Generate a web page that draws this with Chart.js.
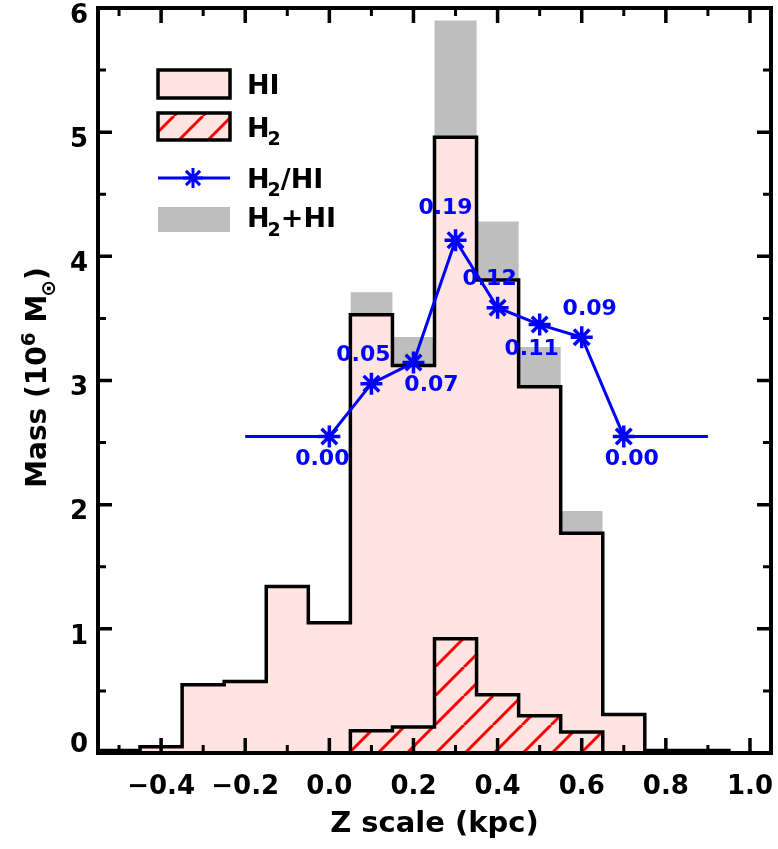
<!DOCTYPE html>
<html>
<head>
<meta charset="utf-8">
<title>HI and H2 mass versus Z scale</title>
<script src="https://cdn.jsdelivr.net/npm/chart.js@4.4.1/dist/chart.umd.min.js"></script>
<style>
  html, body { margin: 0; padding: 0; background: #ffffff; }
  #wrap { width: 778px; height: 849px; }
</style>
</head>
<body>
<div id="wrap"><canvas id="massChart" width="778" height="849"></canvas></div>
<script>
// Mass per 0.1 kpc bin of Z (10^6 solar masses)
const binWidth   = 0.1;
const hiCenters  = [-0.5, -0.4, -0.3, -0.2, -0.1, 0.0, 0.1, 0.2, 0.3, 0.4, 0.5, 0.6, 0.7, 0.8, 0.9];
const massHI     = [0.02, 0.05, 0.55, 0.575, 1.34, 1.05, 3.53, 3.12, 4.96, 3.81, 2.95, 1.77, 0.31, 0.02, 0.02];
const h2Centers  = [0.1, 0.2, 0.3, 0.4, 0.5, 0.6];
const massH2     = [0.18, 0.21, 0.92, 0.47, 0.30, 0.17];
const massTotal  = [3.71, 3.35, 5.90, 4.28, 3.27, 1.95];

// H2/HI mass ratio per bin, and the Z range over which the zero level is drawn
const ratioZ      = [0.0, 0.1, 0.2, 0.3, 0.4, 0.5, 0.6, 0.7];
const ratioH2HI   = [0.00, 0.050, 0.070, 0.186, 0.122, 0.106, 0.094, 0.00];
const ratioExtent = [-0.2, 0.9];

// Axis ticks
const xTickValues = [-0.4, -0.2, 0.0, 0.2, 0.4, 0.6, 0.8, 1.0];
const yTickValues = [0, 1, 2, 3, 4, 5, 6];
const xMinorStep = 0.1;
const yMinorStep = 0.5;

// Label placement relative to each ratio marker (px)
const ratioLabelShift = [[-7, 23], [-8, -28], [18, 23], [-10, -32], [-8, -28], [-8, 25], [8, -28], [8, 23]];

const FONT = "'DejaVu Sans', 'Liberation Sans', sans-serif";
const PINK = '#ffe4e1';
const GREY = '#bebebe';
const BLUE = '#0000ff';
const RED  = '#ff0000';

Chart.defaults.font.family = FONT;
Chart.defaults.font.weight = 'bold';
Chart.defaults.color = '#000';

// Diagonal red hatching for the H2 histogram
function makeHatch() {
  const s = 29;
  const c = document.createElement('canvas');
  c.width = s; c.height = s;
  const g = c.getContext('2d');
  g.strokeStyle = RED;
  g.lineWidth = 3;
  g.beginPath();
  for (let k = -1; k <= 1; k++) {
    g.moveTo(k * s, s);
    g.lineTo(k * s + s, 0);
  }
  g.stroke();
  return g.createPattern(c, 'repeat');
}
const hatch = makeHatch();

// Closed step outline through bin edges (drawn with stepped lines)
function stepOutline(centers, values) {
  const half = binWidth / 2;
  const pts = [{ x: centers[0] - half, y: 0 }];
  centers.forEach((c, i) => pts.push({ x: c - half, y: values[i] }));
  pts.push({ x: centers[centers.length - 1] + half, y: 0 });
  return pts;
}

const ratioPoints = [{ x: ratioExtent[0], y: 0 }]
  .concat(ratioZ.map((z, i) => ({ x: z, y: ratioH2HI[i] })))
  .concat([{ x: ratioExtent[1], y: 0 }]);

function fmtX(v) {
  if (Math.abs(v) < 1e-9) return '0.0';
  return (v < 0 ? '\u2212' : '') + Math.abs(v).toFixed(1);
}

// Inward tick marks on all four sides plus the box frame
const axisFrame = {
  id: 'axisFrame',
  afterDatasetsDraw(chart) {
    const { ctx, chartArea: a, scales: { x, y } } = chart;
    ctx.save();
    ctx.strokeStyle = '#000';
    ctx.lineCap = 'butt';
    for (let i = Math.ceil(x.min / xMinorStep - 1e-9); i * xMinorStep <= x.max + 1e-9; i++) {
      const v = i * xMinorStep;
      const major = xTickValues.some(t => Math.abs(t - v) < 1e-6);
      const px = x.getPixelForValue(v);
      const len = major ? 15 : 8;
      ctx.lineWidth = major ? 3.5 : 3;
      ctx.beginPath();
      ctx.moveTo(px, a.bottom); ctx.lineTo(px, a.bottom - len);
      ctx.moveTo(px, a.top); ctx.lineTo(px, a.top + len);
      ctx.stroke();
    }
    for (let i = Math.ceil(y.min / yMinorStep - 1e-9); i * yMinorStep <= y.max + 1e-9; i++) {
      const v = i * yMinorStep;
      const major = yTickValues.some(t => Math.abs(t - v) < 1e-6);
      const py = y.getPixelForValue(v);
      const len = major ? 14 : 8;
      ctx.lineWidth = major ? 3.5 : 3;
      ctx.beginPath();
      ctx.moveTo(a.left, py); ctx.lineTo(a.left + len, py);
      ctx.moveTo(a.right, py); ctx.lineTo(a.right - len, py);
      ctx.stroke();
    }
    ctx.lineWidth = 4;
    ctx.strokeRect(a.left, a.top, a.right - a.left, a.bottom - a.top);
    ctx.restore();
  }
};

// Ratio values printed next to the asterisks
const ratioLabels = {
  id: 'ratioLabels',
  afterDatasetsDraw(chart) {
    const meta = chart.getDatasetMeta(3);
    const ctx = chart.ctx;
    ctx.save();
    ctx.fillStyle = BLUE;
    ctx.font = `bold 22px ${FONT}`;
    ctx.textAlign = 'center';
    ctx.textBaseline = 'middle';
    ratioH2HI.forEach((r, i) => {
      const el = meta.data[i + 1];
      const [dx, dy] = ratioLabelShift[i];
      ctx.fillText(r.toFixed(2), el.x + dx, el.y + dy);
    });
    ctx.restore();
  }
};

// Text with sub/superscript pieces, drawn along the current baseline
function drawPieces(ctx, pieces, x, y, size) {
  for (const p of pieces) {
    const s = p.sub || p.sup ? Math.round(size * 0.7) : size;
    const dy = p.sub ? size * 0.33 : (p.sup ? -size * 0.38 : 0);
    ctx.font = `bold ${s}px ${FONT}`;
    const kx = p.sub ? -2 : 0;
    ctx.fillText(p.t, x + kx, y + dy);
    x += ctx.measureText(p.t).width + kx;
  }
  return x;
}
function piecesWidth(ctx, pieces, size) {
  let w = 0;
  for (const p of pieces) {
    const s = p.sub || p.sup ? Math.round(size * 0.7) : size;
    ctx.font = `bold ${s}px ${FONT}`;
    w += ctx.measureText(p.t).width + (p.sub ? -2 : 0);
  }
  return w;
}

function drawStar(ctx, cx, cy, r) {
  ctx.beginPath();
  for (let k = 0; k < 4; k++) {
    const ang = k * Math.PI / 4;
    const dx = Math.cos(ang) * r, dy = Math.sin(ang) * r;
    ctx.moveTo(cx - dx, cy - dy);
    ctx.lineTo(cx + dx, cy + dy);
  }
  ctx.stroke();
}

// Legend box in the upper left and the rotated y-axis title
const legendAndTitle = {
  id: 'legendAndTitle',
  afterDraw(chart) {
    const ctx = chart.ctx;
    ctx.save();
    ctx.textAlign = 'left';
    ctx.textBaseline = 'alphabetic';
    ctx.fillStyle = '#000';
    const sx = 158, sw = 72, tx = 247, size = 27;

    // HI
    ctx.fillStyle = PINK;
    ctx.fillRect(sx, 70, sw, 28);
    ctx.strokeStyle = '#000'; ctx.lineWidth = 3.5;
    ctx.strokeRect(sx, 70, sw, 28);
    ctx.fillStyle = '#000';
    drawPieces(ctx, [{ t: 'HI' }], tx, 93.5, size);

    // H2
    ctx.fillStyle = PINK;
    ctx.fillRect(sx, 113, sw, 27);
    ctx.fillStyle = hatch;
    ctx.fillRect(sx, 113, sw, 27);
    ctx.strokeRect(sx, 113, sw, 27);
    ctx.fillStyle = '#000';
    drawPieces(ctx, [{ t: 'H' }, { t: '2', sub: true }], tx, 136.5, size);

    // H2/HI
    ctx.strokeStyle = BLUE; ctx.lineWidth = 3;
    ctx.beginPath(); ctx.moveTo(sx, 178); ctx.lineTo(sx + sw, 178); ctx.stroke();
    drawStar(ctx, sx + 35, 178, 10);
    ctx.fillStyle = '#000';
    drawPieces(ctx, [{ t: 'H' }, { t: '2', sub: true }, { t: '/HI' }], tx, 187.5, size);

    // H2+HI
    ctx.fillStyle = GREY;
    ctx.fillRect(sx, 207, sw, 25);
    ctx.fillStyle = '#000';
    drawPieces(ctx, [{ t: 'H' }, { t: '2', sub: true }, { t: '+HI' }], tx, 227, size);

    // Y-axis title
    const a = chart.chartArea;
    const tsize = 28;
    const title = [{ t: 'Mass (10' }, { t: '6', sup: true }, { t: ' M' }, { t: '\u2299', sub: true }, { t: ')' }];
    const tw = piecesWidth(ctx, title, tsize);
    const cy = (a.top + a.bottom) / 2 - 3;
    ctx.translate(46, cy + tw / 2);
    ctx.rotate(-Math.PI / 2);
    drawPieces(ctx, title, 0, 0, tsize);
    ctx.restore();
  }
};

new Chart(document.getElementById('massChart'), {
  type: 'line',
  data: {
    datasets: [
      {
        label: 'H2+HI',
        data: stepOutline(h2Centers, massTotal),
        stepped: true,
        fill: 'origin',
        backgroundColor: GREY,
        borderColor: 'rgba(0,0,0,0)',
        borderWidth: 0,
        pointRadius: 0,
        order: 4
      },
      {
        label: 'HI',
        data: stepOutline(hiCenters, massHI),
        stepped: true,
        fill: 'origin',
        backgroundColor: PINK,
        borderColor: '#000',
        borderWidth: 3.5,
        borderJoinStyle: 'miter',
        pointRadius: 0,
        order: 3
      },
      {
        label: 'H2',
        data: stepOutline(h2Centers, massH2),
        stepped: true,
        fill: 'origin',
        backgroundColor: hatch,
        borderColor: '#000',
        borderWidth: 3.5,
        borderJoinStyle: 'miter',
        pointRadius: 0,
        order: 2
      },
      {
        label: 'H2/HI',
        data: ratioPoints,
        yAxisID: 'y2',
        borderColor: BLUE,
        borderWidth: 3,
        fill: false,
        pointStyle: 'star',
        pointRadius: ctx => (ctx.dataIndex === 0 || ctx.dataIndex === ratioPoints.length - 1) ? 0 : 11,
        pointBorderColor: BLUE,
        pointBorderWidth: 3.5,
        pointBackgroundColor: BLUE,
        order: 1
      }
    ]
  },
  options: {
    responsive: false,
    animation: false,
    devicePixelRatio: 1,
    layout: { padding: { left: 0, top: 8, right: 7, bottom: 0 } },
    plugins: { legend: { display: false }, tooltip: { enabled: false } },
    elements: { line: { tension: 0 } },
    scales: {
      x: {
        type: 'linear',
        min: -0.55,
        max: 1.05,
        grid: { display: false, drawTicks: false },
        border: { display: false },
        afterBuildTicks: s => { s.ticks = xTickValues.map(v => ({ value: v })); },
        afterFit: s => { s.height = 96; s.paddingLeft = 0; s.paddingRight = 0; },
        ticks: {
          autoSkip: false,
          maxRotation: 0,
          padding: 19,
          color: '#000',
          font: { size: 26, weight: 'bold' },
          callback: v => fmtX(v)
        },
        title: {
          display: true,
          text: 'Z scale (kpc)',
          color: '#000',
          font: { size: 29, weight: 'bold' },
          padding: { top: 0, bottom: 7 }
        }
      },
      y: {
        type: 'linear',
        min: 0,
        max: 6,
        grid: { display: false, drawTicks: false },
        border: { display: false },
        afterBuildTicks: s => { s.ticks = yTickValues.map(v => ({ value: v })); },
        afterFit: s => { s.width = 98; s.paddingTop = 0; s.paddingBottom = 0; },
        ticks: {
          autoSkip: false,
          padding: 10,
          labelOffset: 8,
          color: '#000',
          font: { size: 26, weight: 'bold' },
          callback: v => (v === 0 ? ['0', ''] : String(v))
        }
      },
      y2: {
        type: 'linear',
        display: false,
        position: 'right',
        min: -0.3,
        max: 0.406
      }
    }
  },
  plugins: [axisFrame, ratioLabels, legendAndTitle]
});
</script>
</body>
</html>
